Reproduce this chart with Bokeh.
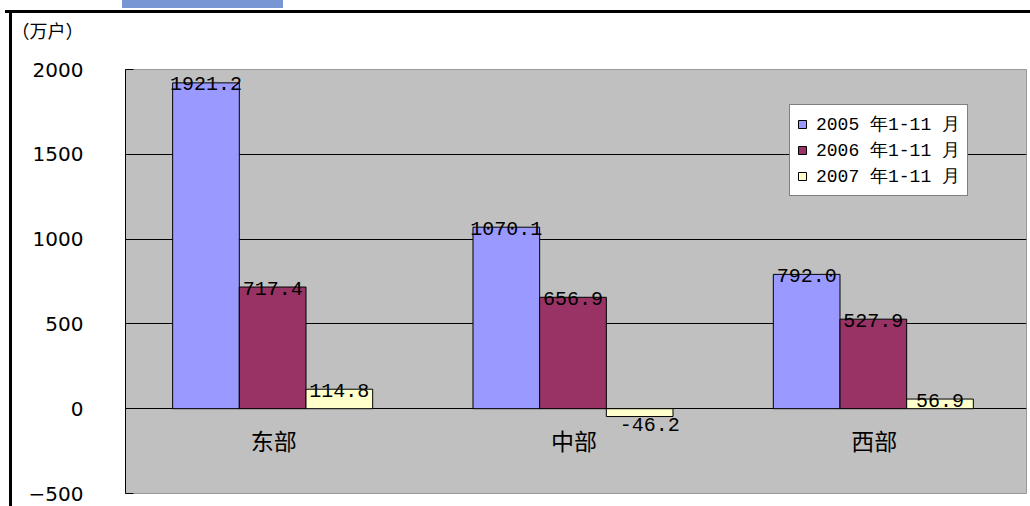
from bokeh.plotting import figure
from bokeh.models import (ColumnDataSource, Range1d, FixedTicker, Title,
                          Legend, LegendItem)
from bokeh.core.properties import value
from bokeh.embed import file_html
from bokeh.resources import INLINE

# ---- data ----
regions = ["东部", "中部", "西部"]
series_names = ["2005 年1-11 月", "2006 年1-11 月", "2007 年1-11 月"]
v2005 = [1921.2, 1070.1, 792.0]
v2006 = [717.4, 656.9, 527.9]
v2007 = [114.8, -46.2, 56.9]
y_ticks = [-500, 0, 500, 1000, 1500, 2000]
unit_label = "（万户）"

colors = ["#9999FF", "#993366", "#FFFFCC"]
series = [v2005, v2006, v2007]

p = figure(width=1030, height=506, output_backend="svg", toolbar_location=None,
           x_range=Range1d(0, 3), y_range=Range1d(-500, 2000),
           x_axis_location=None, min_border_left=113, min_border_right=16,
           min_border_top=56, min_border_bottom=26)
# page frame: black top and left rules, and the clipped blue tab at the very top
p.styles = {
    "border-top": "13px solid transparent",
    "border-left": "12px solid transparent",
    "background": ("linear-gradient(#7896D4,#7896D4) 122px 0px / 161px 8px no-repeat border-box, "
                   "linear-gradient(#000,#000) 5px 10px / 1025px 3px no-repeat border-box, "
                   "linear-gradient(#000,#000) 9px 10px / 3px 496px no-repeat border-box, #ffffff"),
}
p.background_fill_color = "#C0C0C0"
p.border_fill_color = "white"
p.outline_line_color = "#999999"
p.xgrid.visible = False
p.ygrid.grid_line_color = "black"
p.ygrid.grid_line_width = 1
p.ygrid.ticker = FixedTicker(ticks=y_ticks)

ax = p.yaxis[0]
ax.ticker = FixedTicker(ticks=y_ticks)
ax.axis_line_color = "black"
ax.major_tick_in = 8
ax.major_tick_out = 0
ax.major_tick_line_color = "black"
ax.minor_tick_line_color = None
ax.major_label_standoff = 42
ax.major_label_text_font = "DejaVu Sans"
ax.major_label_text_font_size = "20px"
ax.major_label_text_color = "black"

bar_w = 0.222
centers = [i + 0.49 for i in range(len(regions))]
items = []
label_font = value("Liberation Mono")
for k, (vals, col, name) in enumerate(zip(series, colors, series_names)):
    xs = [c + (k - 1) * bar_w for c in centers]
    src = ColumnDataSource(dict(x=xs, top=vals))
    r = p.vbar(x="x", top="top", bottom=0, width=bar_w, source=src,
               fill_color=col, line_color="black", line_width=1)
    items.append(LegendItem(label=name, renderers=[r]))
    pos = ColumnDataSource(dict(x=[x for x, v in zip(xs, vals) if v >= 0],
                                y=[v for v in vals if v >= 0],
                                t=[f"{v:.1f}" for v in vals if v >= 0]))
    neg = ColumnDataSource(dict(x=[x for x, v in zip(xs, vals) if v < 0],
                                y=[v for v in vals if v < 0],
                                t=[f"{v:.1f}" for v in vals if v < 0]))
    p.text(x="x", y="y", text="t", source=pos, text_align="center",
           text_baseline="alphabetic", text_font=label_font, y_offset=1,
           text_font_size="20px", text_color="black")
    p.text(x="x", y="y", text="t", source=neg, text_align="center",
           text_baseline="top", text_font=label_font, x_offset=10, y_offset=1,
           text_font_size="20px", text_color="black")

cat_src = ColumnDataSource(dict(x=[i + 0.5 for i in range(len(regions))],
                                y=[0] * len(regions), t=regions))
p.text(x="x", y="y", text="t", source=cat_src, text_align="center",
       text_baseline="middle", y_offset=31, x_offset=-2,
       text_font=value("Noto Sans CJK SC"), text_font_size="23px", text_color="black")

legend = Legend(items=items, location=(664, 297))
legend.border_line_color = "black"
legend.border_line_width = 1
legend.background_fill_color = "white"
legend.background_fill_alpha = 1
legend.padding = 7
legend.spacing = 2
legend.margin = 0
legend.glyph_width = 10
legend.glyph_height = 10
legend.label_height = 20
legend.label_standoff = 9
legend.label_text_font = "Liberation Mono"
legend.label_text_font_size = "18px"
legend.label_text_color = "black"
p.add_layout(legend, "center")

# spacer between the frame and the unit caption, then the caption itself
p.add_layout(Title(text=" ", text_font_size="1px", standoff=22), "above")
p.add_layout(Title(text=unit_label, align="left", offset=-114,
                   text_font="Noto Sans CJK SC", text_font_size="18px",
                   text_font_style="normal", text_color="black",
                   vertical_align="top", standoff=0), "above")

open("out.html", "w").write(file_html(p, INLINE))
